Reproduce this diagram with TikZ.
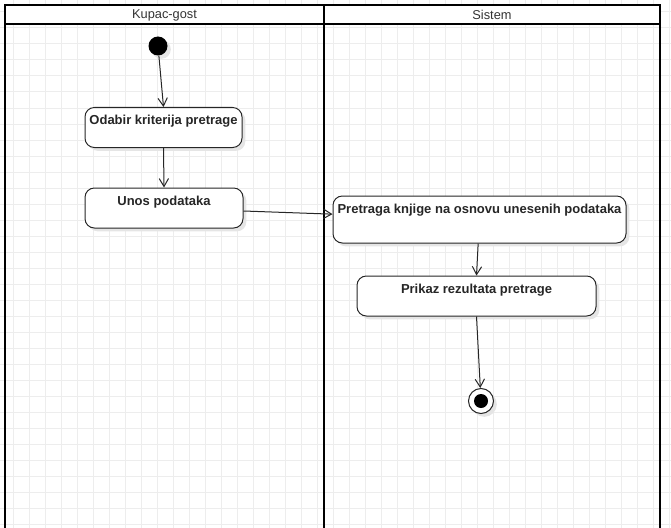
\documentclass[tikz,border=0pt]{standalone}
\usepackage{fontspec}
\setmainfont{Liberation Sans}
\usetikzlibrary{arrows.meta,shadows}

\begin{document}
\begin{tikzpicture}[x=0.75pt, y=-0.75pt,
        every node/.style={font=\fontsize{9.6}{11}\selectfont},
        gridline/.style={draw=black!7, line width=0.75pt},
        lane/.style={line width=2pt},
        activity/.style={draw=black!85, line width=0.75pt, rounded corners=7pt, fill=white,
            drop shadow={shadow xshift=2.5pt, shadow yshift=-2.5pt, fill=black!10, opacity=1},
            inner sep=0pt, minimum height=30pt, text height=12.75pt, text depth=17.25pt,
            font=\fontsize{9.75}{11}\selectfont\bfseries, text=black!85},
        startdot/.style={circle, fill=black, inner sep=0pt, minimum size=14.25pt,
            drop shadow={shadow xshift=2.5pt, shadow yshift=-2.5pt, fill=black!10, opacity=1}},
        enddot/.style={circle, draw=black!85, line width=0.75pt, fill=white, inner sep=0pt, minimum size=18.75pt,
            drop shadow={shadow xshift=2.5pt, shadow yshift=-2.5pt, fill=black!10, opacity=1},
            path picture={\fill[black] (path picture bounding box.center) circle (5.25pt);}},
        flow/.style={draw=black!85, line width=0.75pt, -{Straight Barb[length=6pt,width=7pt]}}]
    \useasboundingbox (0,0) rectangle (671,528);

    % Grid
    \foreach \gx in {13,29,...,669}
        \draw[gridline] (\gx,0) -- (\gx,528);
    \foreach \gy in {12,28,...,524}
        \draw[gridline] (0,\gy) -- (671,\gy);

    % Swimlanes
    \fill[white] (5,5) rectangle (660,24);
    \draw[lane] (5,528) -- (5,5) -- (660,5) -- (660,528);
    \draw[lane] (5,24) -- (660,24);
    \draw[lane] (324,5) -- (324,528);
    \node[text=black!80] (kupac) at (164.5,15) {Kupac-gost};
    \node[text=black!80] (sistem) at (492,15) {Sistem};

    % Kupac-gost
    \node[startdot] (start) at (158,46) {};
    \node[activity, minimum width=117.75pt] (odabir) at (163.5,127.5) {Odabir kriterija pretrage};
    \node[activity, minimum width=118.5pt] (unos) at (164,208) {Unos podataka};

    % Sistem
    \node[activity, minimum width=219.75pt, text depth=22.5pt] (pretraga) at (479.5,219.5) {Pretraga knjige na osnovu unesenih podataka};
    \node[activity, minimum width=179.25pt] (prikaz) at (476.5,296) {Prikaz rezultata pretrage};
    \node[enddot] (stop) at (481,401) {};

    % Flows
    \draw[flow] (start) -- (odabir.north);
    \draw[flow] (odabir.south) -- (unos.north);
    \draw[flow] ([yshift=-2.25pt]unos.east) -- ([yshift=4pt]pretraga.west);
    \draw[flow] ([xshift=-1pt]pretraga.south) -- (prikaz.north);
    \draw[flow] (prikaz.south) -- (stop);

\end{tikzpicture}
\end{document}
